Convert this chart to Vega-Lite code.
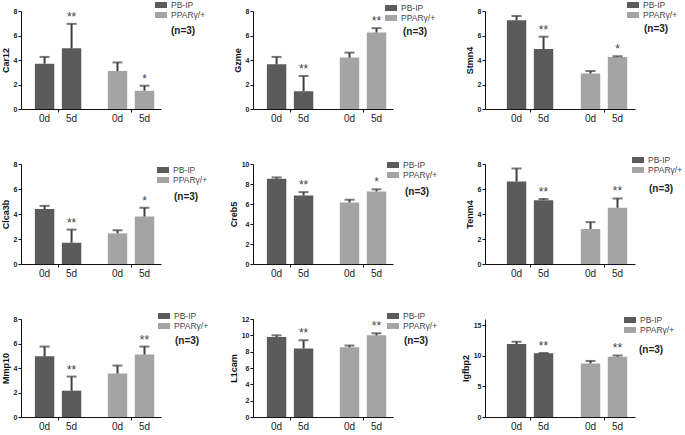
{
  "$schema": "https://vega.github.io/schema/vega-lite/v6.json",
  "padding": {"left": 1, "top": 0, "right": 0, "bottom": 0},
  "bounds": "flush",
  "columns": 3,
  "spacing": {"row": 55, "column": 92},
  "config": {
    "view": {"stroke": null},
    "font": "Liberation Sans",
    "axis": {"domainColor": "#111", "tickColor": "#111", "labelFont": "Liberation Sans", "labelFontSize": 7, "labelFontWeight": "bold", "labelColor": "#222", "labelOverlap": false, "titleFont": "Liberation Sans", "titleFontSize": 9, "titleFontWeight": "bold", "titleColor": "#111", "grid": false, "tickSize": 3, "labelPadding": 1, "titlePadding": 3},
    "legend": {"labelFont": "Liberation Sans", "labelFontSize": 8.5, "labelColor": "#444", "symbolType": "M-1.2,-0.6H1.2V0.6H-1.2Z", "symbolSize": 100, "symbolStrokeWidth": 0, "rowPadding": 0, "labelOffset": 5},
    "bar": {"stroke": null}
  },
  "datasets": {
    "d": [
      {"gene": "Car12", "group": "PB-IP", "day": "0d", "value": 3.7, "upper": 4.25, "sig": ""},
      {"gene": "Car12", "group": "PB-IP", "day": "5d", "value": 4.95, "upper": 6.95, "sig": "**"},
      {"gene": "Car12", "group": "PPARγ/+", "day": "0d", "value": 3.1, "upper": 3.8, "sig": ""},
      {"gene": "Car12", "group": "PPARγ/+", "day": "5d", "value": 1.5, "upper": 1.9, "sig": "*"},
      {"gene": "Gzme", "group": "PB-IP", "day": "0d", "value": 3.65, "upper": 4.25, "sig": ""},
      {"gene": "Gzme", "group": "PB-IP", "day": "5d", "value": 1.45, "upper": 2.7, "sig": "**"},
      {"gene": "Gzme", "group": "PPARγ/+", "day": "0d", "value": 4.2, "upper": 4.6, "sig": ""},
      {"gene": "Gzme", "group": "PPARγ/+", "day": "5d", "value": 6.25, "upper": 6.6, "sig": "**"},
      {"gene": "Stmn4", "group": "PB-IP", "day": "0d", "value": 7.25, "upper": 7.6, "sig": ""},
      {"gene": "Stmn4", "group": "PB-IP", "day": "5d", "value": 4.9, "upper": 5.9, "sig": "**"},
      {"gene": "Stmn4", "group": "PPARγ/+", "day": "0d", "value": 2.9, "upper": 3.1, "sig": ""},
      {"gene": "Stmn4", "group": "PPARγ/+", "day": "5d", "value": 4.25, "upper": 4.3, "sig": "*"},
      {"gene": "Clca3b", "group": "PB-IP", "day": "0d", "value": 4.4, "upper": 4.65, "sig": ""},
      {"gene": "Clca3b", "group": "PB-IP", "day": "5d", "value": 1.7, "upper": 2.75, "sig": "**"},
      {"gene": "Clca3b", "group": "PPARγ/+", "day": "0d", "value": 2.45, "upper": 2.7, "sig": ""},
      {"gene": "Clca3b", "group": "PPARγ/+", "day": "5d", "value": 3.8, "upper": 4.5, "sig": "*"},
      {"gene": "Creb5", "group": "PB-IP", "day": "0d", "value": 8.52, "upper": 8.66, "sig": ""},
      {"gene": "Creb5", "group": "PB-IP", "day": "5d", "value": 6.84, "upper": 7.19, "sig": "**"},
      {"gene": "Creb5", "group": "PPARγ/+", "day": "0d", "value": 6.15, "upper": 6.43, "sig": ""},
      {"gene": "Creb5", "group": "PPARγ/+", "day": "5d", "value": 7.26, "upper": 7.47, "sig": "*"},
      {"gene": "Tenm4", "group": "PB-IP", "day": "0d", "value": 6.6, "upper": 7.65, "sig": ""},
      {"gene": "Tenm4", "group": "PB-IP", "day": "5d", "value": 5.1, "upper": 5.2, "sig": "**"},
      {"gene": "Tenm4", "group": "PPARγ/+", "day": "0d", "value": 2.8, "upper": 3.35, "sig": ""},
      {"gene": "Tenm4", "group": "PPARγ/+", "day": "5d", "value": 4.5, "upper": 5.25, "sig": "**"},
      {"gene": "Mmp10", "group": "PB-IP", "day": "0d", "value": 4.95, "upper": 5.75, "sig": ""},
      {"gene": "Mmp10", "group": "PB-IP", "day": "5d", "value": 2.15, "upper": 3.3, "sig": "**"},
      {"gene": "Mmp10", "group": "PPARγ/+", "day": "0d", "value": 3.55, "upper": 4.2, "sig": ""},
      {"gene": "Mmp10", "group": "PPARγ/+", "day": "5d", "value": 5.1, "upper": 5.75, "sig": "**"},
      {"gene": "L1cam", "group": "PB-IP", "day": "0d", "value": 9.8, "upper": 10.0, "sig": ""},
      {"gene": "L1cam", "group": "PB-IP", "day": "5d", "value": 8.4, "upper": 9.4, "sig": "**"},
      {"gene": "L1cam", "group": "PPARγ/+", "day": "0d", "value": 8.55, "upper": 8.75, "sig": ""},
      {"gene": "L1cam", "group": "PPARγ/+", "day": "5d", "value": 10.0, "upper": 10.25, "sig": "**"},
      {"gene": "Igfbp2", "group": "PB-IP", "day": "0d", "value": 11.9, "upper": 12.3, "sig": ""},
      {"gene": "Igfbp2", "group": "PB-IP", "day": "5d", "value": 10.4, "upper": 10.45, "sig": "**"},
      {"gene": "Igfbp2", "group": "PPARγ/+", "day": "0d", "value": 8.75, "upper": 9.15, "sig": ""},
      {"gene": "Igfbp2", "group": "PPARγ/+", "day": "5d", "value": 9.85, "upper": 10.05, "sig": "**"}
    ]
  },
  "resolve": {"scale": {"color": "independent", "y": "independent", "x": "independent"}, "legend": {"color": "independent"}},
  "concat": [
    {
      "width": 140, "height": 98,
      "data": {"name": "d"},
      "transform": [{"filter": "datum.gene === 'Car12'"}],
      "encoding": {
        "x": {"field": "group", "type": "nominal", "scale": {"domain": ["PB-IP", "PPARγ/+"], "paddingInner": 0.26, "paddingOuter": 0.09, "align": 0.77}, "axis": {"labels": false, "title": null}},
        "xOffset": {"field": "day", "type": "nominal", "scale": {"domain": ["0d", "5d"], "paddingInner": 0.28, "paddingOuter": 0.14}}
      },
      "layer": [
        {"mark": "bar", "encoding": {"y": {"field": "value", "type": "quantitative", "title": "Car12", "scale": {"domain": [0, 8]}, "axis": {"values": [0, 2, 4, 6, 8]}}, "color": {"field": "group", "type": "nominal", "scale": {"domain": ["PB-IP", "PPARγ/+"], "range": ["#5b5b5b", "#a4a4a4"]}, "legend": {"orient": "none", "legendX": 135, "legendY": -11, "title": null}}}},
        {"mark": {"type": "rule", "strokeWidth": 2, "color": "#404040"}, "encoding": {"y": {"field": "value", "type": "quantitative", "title": "Car12", "axis": {"values": [0, 2, 4, 6, 8]}}, "y2": {"field": "upper"}}},
        {"mark": {"type": "tick", "size": 10, "thickness": 2, "color": "#404040"}, "encoding": {"y": {"field": "upper", "type": "quantitative", "title": "Car12", "axis": {"values": [0, 2, 4, 6, 8]}}}},
        {"mark": {"type": "text", "fontSize": 12, "dy": -3, "baseline": "alphabetic", "color": "#444"}, "encoding": {"y": {"field": "upper", "type": "quantitative", "title": "Car12", "axis": {"values": [0, 2, 4, 6, 8]}}, "text": {"field": "sig"}}},
        {"mark": {"type": "text", "fontSize": 10, "dy": 5, "baseline": "top", "color": "#222"}, "encoding": {"y": {"datum": 0, "type": "quantitative", "title": "Car12", "axis": {"values": [0, 2, 4, 6, 8]}}, "text": {"field": "day"}}},
        {"transform": [{"filter": "datum.group === 'PPARγ/+' && datum.day === '5d'"}], "mark": {"type": "text", "fontSize": 10, "fontWeight": "bold", "align": "left", "baseline": "middle", "dx": 26.5, "color": "#222"}, "encoding": {"y": {"datum": 6.37, "type": "quantitative", "title": "Car12", "axis": {"values": [0, 2, 4, 6, 8]}}, "text": {"value": "(n=3)"}}}
      ]
    },
    {
      "width": 140, "height": 98,
      "data": {"name": "d"},
      "transform": [{"filter": "datum.gene === 'Gzme'"}],
      "encoding": {
        "x": {"field": "group", "type": "nominal", "scale": {"domain": ["PB-IP", "PPARγ/+"], "paddingInner": 0.26, "paddingOuter": 0.09, "align": 0.77}, "axis": {"labels": false, "title": null}},
        "xOffset": {"field": "day", "type": "nominal", "scale": {"domain": ["0d", "5d"], "paddingInner": 0.28, "paddingOuter": 0.14}}
      },
      "layer": [
        {"mark": "bar", "encoding": {"y": {"field": "value", "type": "quantitative", "title": "Gzme", "scale": {"domain": [0, 8]}, "axis": {"values": [0, 2, 4, 6, 8]}}, "color": {"field": "group", "type": "nominal", "scale": {"domain": ["PB-IP", "PPARγ/+"], "range": ["#5b5b5b", "#a4a4a4"]}, "legend": {"orient": "none", "legendX": 133, "legendY": -8, "title": null}}}},
        {"mark": {"type": "rule", "strokeWidth": 2, "color": "#404040"}, "encoding": {"y": {"field": "value", "type": "quantitative", "title": "Gzme", "axis": {"values": [0, 2, 4, 6, 8]}}, "y2": {"field": "upper"}}},
        {"mark": {"type": "tick", "size": 10, "thickness": 2, "color": "#404040"}, "encoding": {"y": {"field": "upper", "type": "quantitative", "title": "Gzme", "axis": {"values": [0, 2, 4, 6, 8]}}}},
        {"mark": {"type": "text", "fontSize": 12, "dy": -3, "baseline": "alphabetic", "color": "#444"}, "encoding": {"y": {"field": "upper", "type": "quantitative", "title": "Gzme", "axis": {"values": [0, 2, 4, 6, 8]}}, "text": {"field": "sig"}}},
        {"mark": {"type": "text", "fontSize": 10, "dy": 5, "baseline": "top", "color": "#222"}, "encoding": {"y": {"datum": 0, "type": "quantitative", "title": "Gzme", "axis": {"values": [0, 2, 4, 6, 8]}}, "text": {"field": "day"}}},
        {"transform": [{"filter": "datum.group === 'PPARγ/+' && datum.day === '5d'"}], "mark": {"type": "text", "fontSize": 10, "fontWeight": "bold", "align": "left", "baseline": "middle", "dx": 26.5, "color": "#222"}, "encoding": {"y": {"datum": 6.29, "type": "quantitative", "title": "Gzme", "axis": {"values": [0, 2, 4, 6, 8]}}, "text": {"value": "(n=3)"}}}
      ]
    },
    {
      "width": 150, "height": 98,
      "data": {"name": "d"},
      "transform": [{"filter": "datum.gene === 'Stmn4'"}],
      "encoding": {
        "x": {"field": "group", "type": "nominal", "scale": {"domain": ["PB-IP", "PPARγ/+"], "paddingInner": 0.27, "paddingOuter": 0.149, "align": 0.82}, "axis": {"labels": false, "title": null}},
        "xOffset": {"field": "day", "type": "nominal", "scale": {"domain": ["0d", "5d"], "paddingInner": 0.28, "paddingOuter": 0.14}}
      },
      "layer": [
        {"mark": "bar", "encoding": {"y": {"field": "value", "type": "quantitative", "title": "Stmn4", "scale": {"domain": [0, 8]}, "axis": {"values": [0, 2, 4, 6, 8]}}, "color": {"field": "group", "type": "nominal", "scale": {"domain": ["PB-IP", "PPARγ/+"], "range": ["#5b5b5b", "#a4a4a4"]}, "legend": {"orient": "none", "legendX": 143, "legendY": -11, "title": null}}}},
        {"mark": {"type": "rule", "strokeWidth": 2, "color": "#404040"}, "encoding": {"y": {"field": "value", "type": "quantitative", "title": "Stmn4", "axis": {"values": [0, 2, 4, 6, 8]}}, "y2": {"field": "upper"}}},
        {"mark": {"type": "tick", "size": 10, "thickness": 2, "color": "#404040"}, "encoding": {"y": {"field": "upper", "type": "quantitative", "title": "Stmn4", "axis": {"values": [0, 2, 4, 6, 8]}}}},
        {"mark": {"type": "text", "fontSize": 12, "dy": -3, "baseline": "alphabetic", "color": "#444"}, "encoding": {"y": {"field": "upper", "type": "quantitative", "title": "Stmn4", "axis": {"values": [0, 2, 4, 6, 8]}}, "text": {"field": "sig"}}},
        {"mark": {"type": "text", "fontSize": 10, "dy": 5, "baseline": "top", "color": "#222"}, "encoding": {"y": {"datum": 0, "type": "quantitative", "title": "Stmn4", "axis": {"values": [0, 2, 4, 6, 8]}}, "text": {"field": "day"}}},
        {"transform": [{"filter": "datum.group === 'PPARγ/+' && datum.day === '5d'"}], "mark": {"type": "text", "fontSize": 10, "fontWeight": "bold", "align": "left", "baseline": "middle", "dx": 26.5, "color": "#222"}, "encoding": {"y": {"datum": 6.53, "type": "quantitative", "title": "Stmn4", "axis": {"values": [0, 2, 4, 6, 8]}}, "text": {"value": "(n=3)"}}}
      ]
    },
    {
      "width": 140, "height": 100,
      "data": {"name": "d"},
      "transform": [{"filter": "datum.gene === 'Clca3b'"}],
      "encoding": {
        "x": {"field": "group", "type": "nominal", "scale": {"domain": ["PB-IP", "PPARγ/+"], "paddingInner": 0.26, "paddingOuter": 0.09, "align": 0.77}, "axis": {"labels": false, "title": null}},
        "xOffset": {"field": "day", "type": "nominal", "scale": {"domain": ["0d", "5d"], "paddingInner": 0.28, "paddingOuter": 0.14}}
      },
      "layer": [
        {"mark": "bar", "encoding": {"y": {"field": "value", "type": "quantitative", "title": "Clca3b", "scale": {"domain": [0, 8]}, "axis": {"values": [0, 2, 4, 6, 8]}}, "color": {"field": "group", "type": "nominal", "scale": {"domain": ["PB-IP", "PPARγ/+"], "range": ["#5b5b5b", "#a4a4a4"]}, "legend": {"orient": "none", "legendX": 137, "legendY": 1, "title": null}}}},
        {"mark": {"type": "rule", "strokeWidth": 2, "color": "#404040"}, "encoding": {"y": {"field": "value", "type": "quantitative", "title": "Clca3b", "axis": {"values": [0, 2, 4, 6, 8]}}, "y2": {"field": "upper"}}},
        {"mark": {"type": "tick", "size": 10, "thickness": 2, "color": "#404040"}, "encoding": {"y": {"field": "upper", "type": "quantitative", "title": "Clca3b", "axis": {"values": [0, 2, 4, 6, 8]}}}},
        {"mark": {"type": "text", "fontSize": 12, "dy": -3, "baseline": "alphabetic", "color": "#444"}, "encoding": {"y": {"field": "upper", "type": "quantitative", "title": "Clca3b", "axis": {"values": [0, 2, 4, 6, 8]}}, "text": {"field": "sig"}}},
        {"mark": {"type": "text", "fontSize": 10, "dy": 5, "baseline": "top", "color": "#222"}, "encoding": {"y": {"datum": 0, "type": "quantitative", "title": "Clca3b", "axis": {"values": [0, 2, 4, 6, 8]}}, "text": {"field": "day"}}},
        {"transform": [{"filter": "datum.group === 'PPARγ/+' && datum.day === '5d'"}], "mark": {"type": "text", "fontSize": 10, "fontWeight": "bold", "align": "left", "baseline": "middle", "dx": 29.5, "color": "#222"}, "encoding": {"y": {"datum": 5.36, "type": "quantitative", "title": "Clca3b", "axis": {"values": [0, 2, 4, 6, 8]}}, "text": {"value": "(n=3)"}}}
      ]
    },
    {
      "width": 140, "height": 100,
      "data": {"name": "d"},
      "transform": [{"filter": "datum.gene === 'Creb5'"}],
      "encoding": {
        "x": {"field": "group", "type": "nominal", "scale": {"domain": ["PB-IP", "PPARγ/+"], "paddingInner": 0.26, "paddingOuter": 0.09, "align": 0.77}, "axis": {"labels": false, "title": null}},
        "xOffset": {"field": "day", "type": "nominal", "scale": {"domain": ["0d", "5d"], "paddingInner": 0.28, "paddingOuter": 0.14}}
      },
      "layer": [
        {"mark": "bar", "encoding": {"y": {"field": "value", "type": "quantitative", "title": "Creb5", "scale": {"domain": [0, 10]}, "axis": {"values": [0, 2, 4, 6, 8, 10]}}, "color": {"field": "group", "type": "nominal", "scale": {"domain": ["PB-IP", "PPARγ/+"], "range": ["#5b5b5b", "#a4a4a4"]}, "legend": {"orient": "none", "legendX": 135, "legendY": -4, "title": null}}}},
        {"mark": {"type": "rule", "strokeWidth": 2, "color": "#404040"}, "encoding": {"y": {"field": "value", "type": "quantitative", "title": "Creb5", "axis": {"values": [0, 2, 4, 6, 8, 10]}}, "y2": {"field": "upper"}}},
        {"mark": {"type": "tick", "size": 10, "thickness": 2, "color": "#404040"}, "encoding": {"y": {"field": "upper", "type": "quantitative", "title": "Creb5", "axis": {"values": [0, 2, 4, 6, 8, 10]}}}},
        {"mark": {"type": "text", "fontSize": 12, "dy": -3, "baseline": "alphabetic", "color": "#444"}, "encoding": {"y": {"field": "upper", "type": "quantitative", "title": "Creb5", "axis": {"values": [0, 2, 4, 6, 8, 10]}}, "text": {"field": "sig"}}},
        {"mark": {"type": "text", "fontSize": 10, "dy": 5, "baseline": "top", "color": "#222"}, "encoding": {"y": {"datum": 0, "type": "quantitative", "title": "Creb5", "axis": {"values": [0, 2, 4, 6, 8, 10]}}, "text": {"field": "day"}}},
        {"transform": [{"filter": "datum.group === 'PPARγ/+' && datum.day === '5d'"}], "mark": {"type": "text", "fontSize": 10, "fontWeight": "bold", "align": "left", "baseline": "middle", "dx": 28.5, "color": "#222"}, "encoding": {"y": {"datum": 7.2, "type": "quantitative", "title": "Creb5", "axis": {"values": [0, 2, 4, 6, 8, 10]}}, "text": {"value": "(n=3)"}}}
      ]
    },
    {
      "width": 150, "height": 100,
      "data": {"name": "d"},
      "transform": [{"filter": "datum.gene === 'Tenm4'"}],
      "encoding": {
        "x": {"field": "group", "type": "nominal", "scale": {"domain": ["PB-IP", "PPARγ/+"], "paddingInner": 0.27, "paddingOuter": 0.149, "align": 0.82}, "axis": {"labels": false, "title": null}},
        "xOffset": {"field": "day", "type": "nominal", "scale": {"domain": ["0d", "5d"], "paddingInner": 0.28, "paddingOuter": 0.14}}
      },
      "layer": [
        {"mark": "bar", "encoding": {"y": {"field": "value", "type": "quantitative", "title": "Tenm4", "scale": {"domain": [0, 8]}, "axis": {"values": [0, 2, 4, 6, 8]}}, "color": {"field": "group", "type": "nominal", "scale": {"domain": ["PB-IP", "PPARγ/+"], "range": ["#5b5b5b", "#a4a4a4"]}, "legend": {"orient": "none", "legendX": 148, "legendY": -9, "title": null}}}},
        {"mark": {"type": "rule", "strokeWidth": 2, "color": "#404040"}, "encoding": {"y": {"field": "value", "type": "quantitative", "title": "Tenm4", "axis": {"values": [0, 2, 4, 6, 8]}}, "y2": {"field": "upper"}}},
        {"mark": {"type": "tick", "size": 10, "thickness": 2, "color": "#404040"}, "encoding": {"y": {"field": "upper", "type": "quantitative", "title": "Tenm4", "axis": {"values": [0, 2, 4, 6, 8]}}}},
        {"mark": {"type": "text", "fontSize": 12, "dy": -3, "baseline": "alphabetic", "color": "#444"}, "encoding": {"y": {"field": "upper", "type": "quantitative", "title": "Tenm4", "axis": {"values": [0, 2, 4, 6, 8]}}, "text": {"field": "sig"}}},
        {"mark": {"type": "text", "fontSize": 10, "dy": 5, "baseline": "top", "color": "#222"}, "encoding": {"y": {"datum": 0, "type": "quantitative", "title": "Tenm4", "axis": {"values": [0, 2, 4, 6, 8]}}, "text": {"field": "day"}}},
        {"transform": [{"filter": "datum.group === 'PPARγ/+' && datum.day === '5d'"}], "mark": {"type": "text", "fontSize": 10, "fontWeight": "bold", "align": "left", "baseline": "middle", "dx": 31.5, "color": "#222"}, "encoding": {"y": {"datum": 6.0, "type": "quantitative", "title": "Tenm4", "axis": {"values": [0, 2, 4, 6, 8]}}, "text": {"value": "(n=3)"}}}
      ]
    },
    {
      "width": 140, "height": 98,
      "data": {"name": "d"},
      "transform": [{"filter": "datum.gene === 'Mmp10'"}],
      "encoding": {
        "x": {"field": "group", "type": "nominal", "scale": {"domain": ["PB-IP", "PPARγ/+"], "paddingInner": 0.26, "paddingOuter": 0.09, "align": 0.77}, "axis": {"labels": false, "title": null}},
        "xOffset": {"field": "day", "type": "nominal", "scale": {"domain": ["0d", "5d"], "paddingInner": 0.28, "paddingOuter": 0.14}}
      },
      "layer": [
        {"mark": "bar", "encoding": {"y": {"field": "value", "type": "quantitative", "title": "Mmp10", "scale": {"domain": [0, 8]}, "axis": {"values": [0, 2, 4, 6, 8]}}, "color": {"field": "group", "type": "nominal", "scale": {"domain": ["PB-IP", "PPARγ/+"], "range": ["#5b5b5b", "#a4a4a4"]}, "legend": {"orient": "none", "legendX": 138, "legendY": -8, "title": null}}}},
        {"mark": {"type": "rule", "strokeWidth": 2, "color": "#404040"}, "encoding": {"y": {"field": "value", "type": "quantitative", "title": "Mmp10", "axis": {"values": [0, 2, 4, 6, 8]}}, "y2": {"field": "upper"}}},
        {"mark": {"type": "tick", "size": 10, "thickness": 2, "color": "#404040"}, "encoding": {"y": {"field": "upper", "type": "quantitative", "title": "Mmp10", "axis": {"values": [0, 2, 4, 6, 8]}}}},
        {"mark": {"type": "text", "fontSize": 12, "dy": -3, "baseline": "alphabetic", "color": "#444"}, "encoding": {"y": {"field": "upper", "type": "quantitative", "title": "Mmp10", "axis": {"values": [0, 2, 4, 6, 8]}}, "text": {"field": "sig"}}},
        {"mark": {"type": "text", "fontSize": 10, "dy": 5, "baseline": "top", "color": "#222"}, "encoding": {"y": {"datum": 0, "type": "quantitative", "title": "Mmp10", "axis": {"values": [0, 2, 4, 6, 8]}}, "text": {"field": "day"}}},
        {"transform": [{"filter": "datum.group === 'PPARγ/+' && datum.day === '5d'"}], "mark": {"type": "text", "fontSize": 10, "fontWeight": "bold", "align": "left", "baseline": "middle", "dx": 30.5, "color": "#222"}, "encoding": {"y": {"datum": 6.2, "type": "quantitative", "title": "Mmp10", "axis": {"values": [0, 2, 4, 6, 8]}}, "text": {"value": "(n=3)"}}}
      ]
    },
    {
      "width": 140, "height": 98,
      "data": {"name": "d"},
      "transform": [{"filter": "datum.gene === 'L1cam'"}],
      "encoding": {
        "x": {"field": "group", "type": "nominal", "scale": {"domain": ["PB-IP", "PPARγ/+"], "paddingInner": 0.26, "paddingOuter": 0.09, "align": 0.77}, "axis": {"labels": false, "title": null}},
        "xOffset": {"field": "day", "type": "nominal", "scale": {"domain": ["0d", "5d"], "paddingInner": 0.28, "paddingOuter": 0.14}}
      },
      "layer": [
        {"mark": "bar", "encoding": {"y": {"field": "value", "type": "quantitative", "title": "L1cam", "scale": {"domain": [0, 12]}, "axis": {"values": [0, 2, 4, 6, 8, 10, 12]}}, "color": {"field": "group", "type": "nominal", "scale": {"domain": ["PB-IP", "PPARγ/+"], "range": ["#5b5b5b", "#a4a4a4"]}, "legend": {"orient": "none", "legendX": 135, "legendY": -8, "title": null}}}},
        {"mark": {"type": "rule", "strokeWidth": 2, "color": "#404040"}, "encoding": {"y": {"field": "value", "type": "quantitative", "title": "L1cam", "axis": {"values": [0, 2, 4, 6, 8, 10, 12]}}, "y2": {"field": "upper"}}},
        {"mark": {"type": "tick", "size": 10, "thickness": 2, "color": "#404040"}, "encoding": {"y": {"field": "upper", "type": "quantitative", "title": "L1cam", "axis": {"values": [0, 2, 4, 6, 8, 10, 12]}}}},
        {"mark": {"type": "text", "fontSize": 12, "dy": -3, "baseline": "alphabetic", "color": "#444"}, "encoding": {"y": {"field": "upper", "type": "quantitative", "title": "L1cam", "axis": {"values": [0, 2, 4, 6, 8, 10, 12]}}, "text": {"field": "sig"}}},
        {"mark": {"type": "text", "fontSize": 10, "dy": 5, "baseline": "top", "color": "#222"}, "encoding": {"y": {"datum": 0, "type": "quantitative", "title": "L1cam", "axis": {"values": [0, 2, 4, 6, 8, 10, 12]}}, "text": {"field": "day"}}},
        {"transform": [{"filter": "datum.group === 'PPARγ/+' && datum.day === '5d'"}], "mark": {"type": "text", "fontSize": 10, "fontWeight": "bold", "align": "left", "baseline": "middle", "dx": 27.5, "color": "#222"}, "encoding": {"y": {"datum": 9.31, "type": "quantitative", "title": "L1cam", "axis": {"values": [0, 2, 4, 6, 8, 10, 12]}}, "text": {"value": "(n=3)"}}}
      ]
    },
    {
      "width": 150, "height": 98,
      "data": {"name": "d"},
      "transform": [{"filter": "datum.gene === 'Igfbp2'"}],
      "encoding": {
        "x": {"field": "group", "type": "nominal", "scale": {"domain": ["PB-IP", "PPARγ/+"], "paddingInner": 0.27, "paddingOuter": 0.149, "align": 0.82}, "axis": {"labels": false, "title": null}},
        "xOffset": {"field": "day", "type": "nominal", "scale": {"domain": ["0d", "5d"], "paddingInner": 0.28, "paddingOuter": 0.14}}
      },
      "layer": [
        {"mark": "bar", "encoding": {"y": {"field": "value", "type": "quantitative", "title": "Igfbp2", "scale": {"domain": [0, 15]}, "axis": {"values": [0, 5, 10, 15]}}, "color": {"field": "group", "type": "nominal", "scale": {"domain": ["PB-IP", "PPARγ/+"], "range": ["#5b5b5b", "#a4a4a4"]}, "legend": {"orient": "none", "legendX": 140, "legendY": -4, "title": null}}}},
        {"mark": {"type": "rule", "strokeWidth": 2, "color": "#404040"}, "encoding": {"y": {"field": "value", "type": "quantitative", "title": "Igfbp2", "axis": {"values": [0, 5, 10, 15]}}, "y2": {"field": "upper"}}},
        {"mark": {"type": "tick", "size": 10, "thickness": 2, "color": "#404040"}, "encoding": {"y": {"field": "upper", "type": "quantitative", "title": "Igfbp2", "axis": {"values": [0, 5, 10, 15]}}}},
        {"mark": {"type": "text", "fontSize": 12, "dy": -3, "baseline": "alphabetic", "color": "#444"}, "encoding": {"y": {"field": "upper", "type": "quantitative", "title": "Igfbp2", "axis": {"values": [0, 5, 10, 15]}}, "text": {"field": "sig"}}},
        {"mark": {"type": "text", "fontSize": 10, "dy": 5, "baseline": "top", "color": "#222"}, "encoding": {"y": {"datum": 0, "type": "quantitative", "title": "Igfbp2", "axis": {"values": [0, 5, 10, 15]}}, "text": {"field": "day"}}},
        {"transform": [{"filter": "datum.group === 'PPARγ/+' && datum.day === '5d'"}], "mark": {"type": "text", "fontSize": 10, "fontWeight": "bold", "align": "left", "baseline": "middle", "dx": 21.5, "color": "#222"}, "encoding": {"y": {"datum": 10.87, "type": "quantitative", "title": "Igfbp2", "axis": {"values": [0, 5, 10, 15]}}, "text": {"value": "(n=3)"}}}
      ]
    }
  ]
}
